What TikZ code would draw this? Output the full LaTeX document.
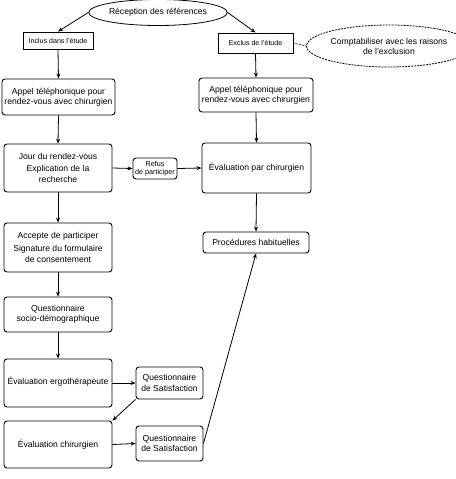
\documentclass[tikz,border=0pt]{standalone}
\usepackage{fontspec}
\setmainfont{Liberation Sans}
\usetikzlibrary{arrows.meta,shapes.geometric}
\begin{document}
\begin{tikzpicture}[x=1pt,y=-1pt,
  box/.style={draw, rounded corners=3pt, align=center, inner sep=0pt, line width=0.9pt, font=\fontsize{8.6}{10.5}\selectfont},
  sq/.style={draw, align=center, inner sep=0pt, line width=0.9pt, font=\fontsize{7.1}{9}\selectfont},
  oval/.style={ellipse, draw, align=center, inner sep=0pt, line width=0.8pt, font=\fontsize{8.6}{10}\selectfont},
  arr/.style={-{Stealth[length=5pt,width=4pt]}, line width=0.8pt}]
\useasboundingbox (0,0) rectangle (455,479);
\node[oval, minimum width=109, minimum height=26] (rec) at (158,12.5) {Réception des références};
\node[sq, minimum width=70, minimum height=17] (inc) at (58,40.5) {Inclus dans l'étude};
\node[sq, minimum width=75, minimum height=20] (exc) at (255.5,43) {Exclus de l'étude};
\node[oval, dash pattern=on 2pt off 1pt, minimum width=122, minimum height=42] (comp) at (389,46) {Comptabiliser avec les raisons\\de l'exclusion};
\node[box, minimum width=113, minimum height=36] (appL) at (58.5,97) {Appel téléphonique pour\\rendez-vous avec chirurgien};
\node[box, minimum width=114, minimum height=34] (appR) at (256,95) {Appel téléphonique pour\\rendez-vous avec chirurgien};
\node[box, minimum width=108, minimum height=48] (jour) at (58,168) {Jour du rendez-vous\\[1.5pt]Explication de la\\recherche};
\node[box, font=\fontsize{7.2}{8}\selectfont, minimum width=44, minimum height=21] (ref) at (155,168.5) {Refus\\de participer};
\node[box, minimum width=109, minimum height=50] (evp) at (256.5,168) {Évaluation par chirurgien};
\node[box, minimum width=106, minimum height=21] (proc) at (256,242.5) {Procédures habituelles};
\node[box, minimum width=108, minimum height=49] (acc) at (58,247.5) {Accepte de participer\\[2.5pt]Signature du formulaire\\de consentement};
\node[box, minimum width=108, minimum height=35] (qsd) at (58,314.5) {Questionnaire\\socio-démographique};
\node[box, minimum width=108, minimum height=48] (ergo) at (58,383) {\raisebox{4pt}{Évaluation ergothérapeute}};
\node[box, minimum width=67, minimum height=32] (qs1) at (169.5,383) {Questionnaire\\de Satisfaction};
\node[box, minimum width=108, minimum height=47] (echir) at (58,444.5) {Évaluation chirurgien};
\node[box, minimum width=67, minimum height=35] (qs2) at (169.5,443.5) {Questionnaire\\de Satisfaction};
\draw[arr] (rec.west) -- (inc.north);
\draw[arr] (rec.east) -- (exc.north);
\draw[dash pattern=on 2pt off 1pt, line width=0.6pt] (exc.east) -- (comp.west);
\draw[arr] (inc.south) -- (appL.north);
\draw[arr] (exc.south) -- (appR.north);
\draw[arr] (appL.south) -- (jour.north);
\draw[arr] (appR.south) -- (evp.north);
\draw[arr] (jour.east) -- (ref.west);
\draw[arr] (ref.east) -- (evp.west);
\draw[arr] (evp.south) -- (proc.north);
\draw[arr] (jour.south) -- (acc.north);
\draw[arr] (acc.south) -- (qsd.north);
\draw[arr] (qsd.south) -- (ergo.north);
\draw[arr] (ergo.east) -- (qs1.west);
\draw[arr] (qs1.south west) -- (echir.north east);
\draw[arr] (echir.east) -- (qs2.west);
\draw[arr] (qs2.east) -- (proc.south);
\end{tikzpicture}
\end{document}
